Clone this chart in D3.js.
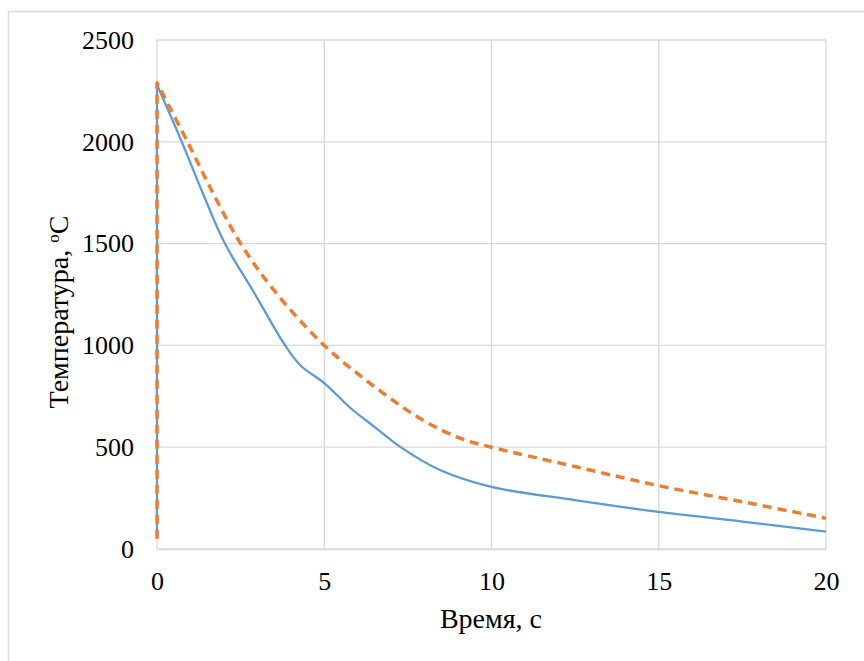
<!DOCTYPE html>
<html>
<head>
<meta charset="utf-8">
<script src="https://cdn.jsdelivr.net/npm/d3@7"></script>
<style>
  body { margin: 0; background: #fff; }
</style>
</head>
<body>
<div id="my_dataviz"></div>
<script>
// data
var timeBlue = [0, 0, 0.74, 1.4, 2.03, 2.9, 3.83, 4.3, 5, 5.8, 6.5, 7.26, 8.46, 10, 12.5, 15, 17.5, 20];
var tempBlue = [50, 2280, 2000, 1735, 1500, 1260, 1000, 900, 815, 690, 600, 503, 388, 305, 240, 182, 135, 85];

var timeOrange = [0, 0, 0.91, 1.7, 2.5, 3.5, 5, 6.37, 7.86, 9.06, 10, 12.5, 15, 17.5, 20];
var tempOrange = [50, 2290, 2000, 1740, 1500, 1270, 1000, 814, 642, 544, 500, 405, 311, 232, 151];

var xTicks = [0, 5, 10, 15, 20];
var yTicks = [0, 500, 1000, 1500, 2000, 2500];

var serif = "'Liberation Serif', 'Times New Roman', 'DejaVu Serif', serif";

// set the dimensions and margins of the graph
var margin = {top: 40, right: 38, bottom: 112, left: 157},
    width = 864 - margin.left - margin.right,
    height = 661 - margin.top - margin.bottom;

var svg0 = d3.select("#my_dataviz")
  .append("svg")
    .attr("width", 864)
    .attr("height", 661);

// chart frame
svg0.append("rect")
  .attr("x", 8.5).attr("y", 11.5)
  .attr("width", 900).attr("height", 700)
  .attr("fill", "none")
  .attr("stroke", "#d9d9d9")
  .attr("stroke-width", 1.5);

var svg = svg0.append("g")
  .attr("transform", "translate(" + margin.left + "," + margin.top + ")");

var x = d3.scaleLinear().domain([0, 20]).range([0, width]);
var y = d3.scaleLinear().domain([0, 2500]).range([height, 0]);

// grid
svg.append("g")
  .selectAll("line")
  .data(yTicks)
  .enter().append("line")
    .attr("x1", 0).attr("x2", width)
    .attr("y1", function(d) { return y(d); })
    .attr("y2", function(d) { return y(d); })
    .attr("stroke", "#d9d9d9")
    .attr("stroke-width", 1.3);

svg.append("g")
  .selectAll("line")
  .data(xTicks)
  .enter().append("line")
    .attr("y1", 0).attr("y2", height)
    .attr("x1", function(d) { return x(d); })
    .attr("x2", function(d) { return x(d); })
    .attr("stroke", "#d9d9d9")
    .attr("stroke-width", 1.3);

// Add X axis
var xAxis = svg.append("g")
  .attr("transform", "translate(0," + height + ")")
  .call(d3.axisBottom(x).tickValues(xTicks).tickFormat(d3.format("d")).tickSize(0).tickPadding(23));
xAxis.select(".domain").attr("stroke", "#d9d9d9").attr("stroke-width", 1.3);
xAxis.selectAll("text")
  .style("font-family", serif).style("font-size", "26px").attr("dy", "0.71em").attr("fill", "#000");

// Add Y axis
var yAxis = svg.append("g")
  .call(d3.axisLeft(y).tickValues(yTicks).tickFormat(d3.format("d")).tickSize(0).tickPadding(23));
yAxis.select(".domain").remove();
yAxis.selectAll("text")
  .style("font-family", serif).style("font-size", "26px").attr("fill", "#000");

var lineStraight = d3.line()
  .x(function(d) { return x(d[0]); })
  .y(function(d) { return y(d[1]); });

var lineSmooth = d3.line()
  .x(function(d) { return x(d[0]); })
  .y(function(d) { return y(d[1]); })
  .curve(d3.curveCatmullRom.alpha(0.5));

// straight rise at t=0, smoothed cooling afterwards
function pathOf(data) {
  return lineStraight(data.slice(0, 2)) + lineSmooth(data.slice(1)).replace(/^M[^CL]*/, "");
}

var blue = d3.zip(timeBlue, tempBlue);
var orange = d3.zip(timeOrange, tempOrange);

svg.append("path")
  .attr("fill", "none")
  .attr("stroke", "#5b9bd5")
  .attr("stroke-width", 2.25)
  .attr("stroke-linejoin", "round")
  .attr("d", pathOf(blue));

svg.append("path")
  .attr("fill", "none")
  .attr("stroke", "#ed7d31")
  .attr("stroke-width", 3.5)
  .attr("stroke-dasharray", "9,6")
  .attr("stroke-linejoin", "round")
  .attr("d", pathOf(orange));

// X axis label
svg.append("text")
  .attr("text-anchor", "middle")
  .attr("x", 491 - margin.left)
  .attr("y", 628 - margin.top)
  .style("font-family", serif)
  .style("font-size", "28px")
  .text("Время, с");

// Y axis label
svg.append("text")
  .attr("text-anchor", "middle")
  .attr("transform", "rotate(-90)")
  .attr("x", -(312 - margin.top))
  .attr("y", 68 - margin.left)
  .style("font-family", serif)
  .style("font-size", "28px")
  .html("Температура, <tspan baseline-shift='super' font-size='17px'>o</tspan>C");
</script>
</body>
</html>
